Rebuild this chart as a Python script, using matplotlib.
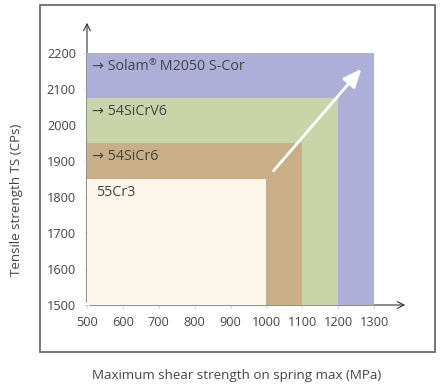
import matplotlib
matplotlib.use("Agg")
import matplotlib.pyplot as plt
from matplotlib.patches import Rectangle

plt.rcParams['font.family'] = ['Open Sans', 'DejaVu Sans']

labels = ["→ Solam® M2050 S-Cor", "→ 54SiCrV6", "→ 54SiCr6", "55Cr3"]
shear_max = [1300, 1200, 1100, 1000]
tensile_max = [2200, 2075, 1950, 1850]
colors = ["#ADAFD9", "#C9D5A9", "#C8AF88", "#FDF6EA"]
x_ticks = [500, 600, 700, 800, 900, 1000, 1100, 1200, 1300]
y_ticks = [1500, 1600, 1700, 1800, 1900, 2000, 2100, 2200]
arrow_start = (1015, 1867)
arrow_end = (1270, 2162)

W, H = 440, 389
fig = plt.figure(figsize=(W / 100, H / 100), dpi=100)

# outer frame
frame = Rectangle((40 / W, 1 - 352 / H), (435 - 40) / W, (352 - 5) / H,
                  transform=fig.transFigure, fill=False, edgecolor="#6b6b6b",
                  linewidth=1.3)
fig.add_artist(frame)

x0, x1 = 87, 374
y0, y1 = 305, 53
ppx = (x1 - x0) / 800
ppy = (y0 - y1) / 700
xmin, xmax = 500, 1300 + (408 - x1) / ppx
ymin, ymax = 1500, 2200 + (y1 - 20) / ppy
left = x0 / W
right = (x0 + (xmax - 500) * ppx) / W
bottom = 1 - y0 / H
top = 1 - (y0 - (ymax - 1500) * ppy) / H
ax = fig.add_axes([left, bottom, right - left, top - bottom])
ax.set_xlim(xmin, xmax)
ax.set_ylim(ymin, ymax)
for s in ax.spines.values():
    s.set_visible(False)
ax.patch.set_alpha(0)

for xm, ym, c in zip(shear_max, tensile_max, colors):
    ax.add_patch(Rectangle((500, 1500), xm - 500, ym - 1500, facecolor=c,
                           edgecolor="none", zorder=1))

tc = "#444444"
fs = 10.3
for i, (lab, ym) in enumerate(zip(labels, tensile_max)):
    xt = 514 if i < 3 else 525
    if "®" in lab:
        pre, post = lab.split("®")
        t1 = ax.text(xt, ym - 38, pre, fontsize=fs, color=tc, va="center",
                     ha="left", zorder=3)
        t2 = ax.annotate("®", xy=(1, 0.45), xycoords=t1, fontsize=6.5,
                         color=tc, ha="left", va="bottom", zorder=3)
        ax.annotate(post, xy=(1, 0), xycoords=(t2, t1), fontsize=fs,
                    color=tc, ha="left", va="bottom", zorder=3)
    else:
        ax.text(xt, ym - 38, lab, fontsize=fs, color=tc, va="center",
                ha="left", zorder=3)

# axis arrows
ax.annotate("", xy=(xmax, 1500), xytext=(500, 1500),
            arrowprops=dict(arrowstyle="->", color="#333333", lw=0.8,
                            mutation_scale=12), zorder=0)
ax.annotate("", xy=(500, ymax), xytext=(500, 1500),
            arrowprops=dict(arrowstyle="->", color="#333333", lw=0.8,
                            mutation_scale=12), zorder=0)

# white arrow
ax.annotate("", xy=arrow_end, xytext=arrow_start,
            arrowprops=dict(arrowstyle="-|>,head_length=0.7,head_width=0.3",
                            color="white", lw=2.0, mutation_scale=16),
            zorder=4)

ax.set_xticks(x_ticks)
ax.set_yticks(y_ticks)
ax.set_xticklabels([str(v) for v in x_ticks])
ax.set_yticklabels([str(v) for v in y_ticks])
ax.tick_params(axis="both", length=2, width=0.5, color="#bbbbbb",
               labelsize=9.2, labelcolor=tc, pad=6)

fig.text(17 / W, 1 - 200 / H, "Tensile strength TS (CPs)", rotation=90,
         ha="center", va="center", fontsize=9.6, color=tc)
fig.text(237 / W, 1 - 375 / H, "Maximum shear strength on spring max (MPa)",
         ha="center", va="center", fontsize=9.6, color=tc)

fig.savefig("out.png", dpi=100)
